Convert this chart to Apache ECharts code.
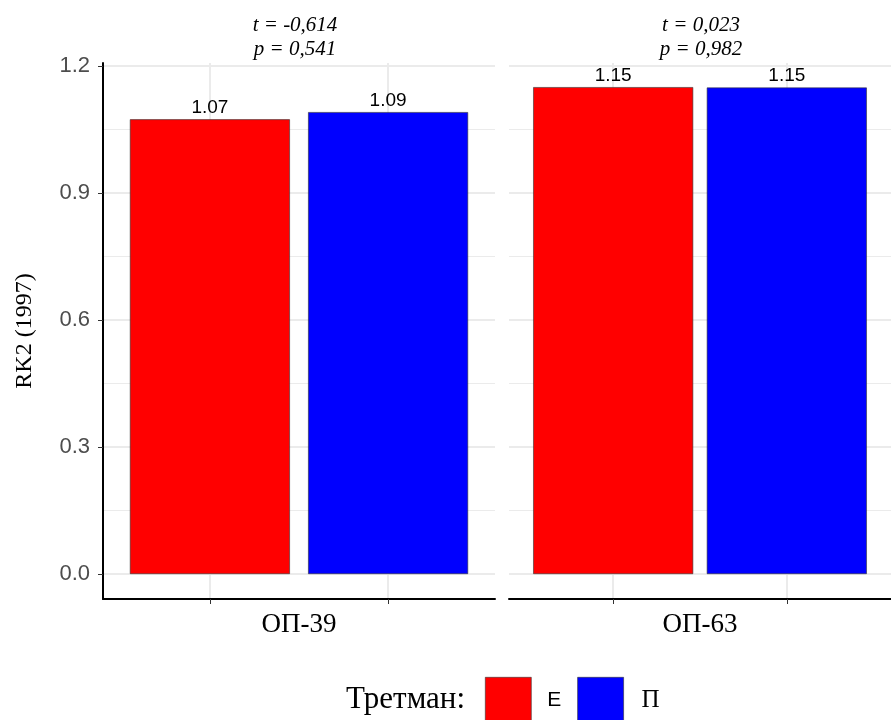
<!DOCTYPE html>
<html>
<head>
<meta charset="utf-8">
<script src="https://cdn.jsdelivr.net/npm/echarts@6/dist/echarts.min.js"></script>
<style>html,body{margin:0;padding:0;background:#fff;}#c{width:891px;height:720px;}</style>
</head>
<body>
<div id="c"></div>
<script>
const facets = ['ОП-39', 'ОП-63'];
const groups = ['Е', 'П'];
const valuesE = [1.074, 1.150];
const valuesP = [1.091, 1.149];
const tStats = ['-0,614', '0,023'];
const pStats = ['0,541', '0,982'];
const yTicks = [0, 0.3, 0.6, 0.9, 1.2];
const yMinorTicks = [0.15, 0.45, 0.75, 1.05];
const groupColors = ['#FF0000', '#0000FF'];
const yTitle = 'RK2 (1997)';
const legendTitle = 'Третман:';

const SANS = 'Liberation Sans, Arial, sans-serif';
const SERIF = 'Liberation Serif, Times New Roman, serif';
const GRID_COLOR = '#EBEBEB';

const panelLefts = [103, 509];
const panelWidth = 392;
const panelTop = 63;
const panelHeight = 536;

const chart = echarts.init(document.getElementById('c'), null, {renderer: 'canvas'});

const grids = [], xAxes = [], yAxes = [], series = [], graphics = [];
facets.forEach((f, i) => {
  grids.push({left: panelLefts[i], top: panelTop, width: panelWidth, height: panelHeight, containLabel: false});
  xAxes.push({
    type: 'value', gridIndex: i, min: 0.4, max: 2.6,
    name: f, nameLocation: 'middle', nameGap: 12,
    nameTextStyle: {fontFamily: SERIF, fontSize: 27, color: '#000', verticalAlign: 'top'},
    axisLine: {show: true, onZero: false, lineStyle: {color: '#000', width: 2}},
    axisTick: {show: true, customValues: [1, 2], length: 5, lineStyle: {color: '#333', width: 1}},
    axisLabel: {show: false},
    splitLine: {show: true, lineStyle: {color: GRID_COLOR, width: 2}}
  });
  yAxes.push({
    type: 'value', gridIndex: i, min: -0.059, max: 1.207,
    name: i === 0 ? yTitle : '', nameLocation: 'middle', nameRotate: 90, nameGap: 66,
    nameTextStyle: {fontFamily: SERIF, fontSize: 24, color: '#000'},
    axisLine: {show: i === 0, onZero: false, lineStyle: {color: '#000', width: 2}},
    axisTick: {show: i === 0, customValues: yTicks, length: 5, lineStyle: {color: '#333', width: 1}},
    axisLabel: {show: i === 0, customValues: yTicks, formatter: v => Number(v).toFixed(1),
      fontFamily: SANS, fontSize: 22, color: '#4D4D4D', margin: 13},
    splitLine: {show: true, lineStyle: {color: GRID_COLOR, width: 2}}
  });
  yAxes.push({
    type: 'value', gridIndex: i, min: -0.059, max: 1.207, position: 'left',
    axisLine: {show: false}, axisLabel: {show: false},
    axisTick: {show: false, customValues: yMinorTicks},
    splitLine: {show: true, lineStyle: {color: GRID_COLOR, width: 1}}
  });
  const vals = [valuesE[i], valuesP[i]];
  groups.forEach((g, j) => {
    series.push({
      name: g, type: 'bar', xAxisIndex: i, yAxisIndex: i * 2,
      data: [[j + 1, vals[j]]],
      barWidth: 160, barGap: '-100%',
      itemStyle: {color: groupColors[j], borderColor: '#333', borderWidth: 0.6},
      label: {show: true, position: 'top', distance: 2, formatter: p => p.value[1].toFixed(2),
        fontFamily: SANS, fontSize: 19, color: '#000'},
      z: 3
    });
  });
  graphics.push({
    type: 'text', x: panelLefts[i] + panelWidth / 2 - 4, y: 13,
    style: {text: 't = ' + tStats[i] + '\np = ' + pStats[i], fontFamily: SERIF, fontStyle: 'italic',
      fontSize: 21, lineHeight: 24, fill: '#000', textAlign: 'center', textVerticalAlign: 'top'}
  });
});

graphics.push({
  type: 'text', x: 465, y: 700,
  style: {text: legendTitle, fontFamily: SERIF, fontSize: 31, fill: '#000',
    textAlign: 'right', textVerticalAlign: 'middle'}
});

chart.setOption({
  animation: false,
  backgroundColor: '#fff',
  grid: grids,
  xAxis: xAxes,
  yAxis: yAxes,
  series: series,
  graphic: graphics,
  legend: {
    data: groups, left: 485, top: 677, orient: 'horizontal', padding: 0,
    itemWidth: 46, itemHeight: 46, itemGap: 16,
    icon: 'rect',
    itemStyle: {borderColor: '#333', borderWidth: 0.6},
    formatter: n => n === 'Е' ? '{s|' + n + '}' : '{r|' + n + '}',
    textStyle: {rich: {
      s: {fontFamily: SANS, fontSize: 21, color: '#000', padding: [0, 0, 0, 11]},
      r: {fontFamily: SERIF, fontSize: 25, color: '#000', padding: [0, 0, 0, 13]}
    }},
    selectedMode: false
  }
});
</script>
</body>
</html>
